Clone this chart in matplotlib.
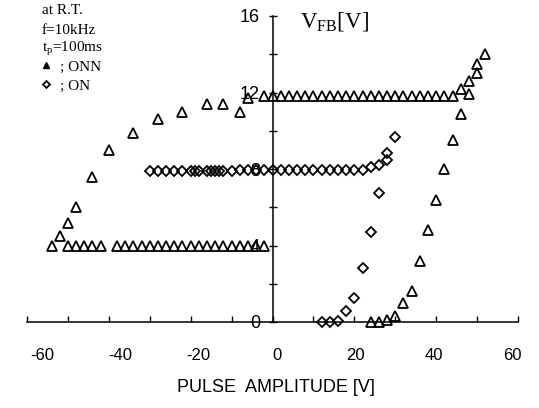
import matplotlib
matplotlib.use("Agg")
import matplotlib.pyplot as plt
from matplotlib.lines import Line2D

# ---------------- data ----------------
# ONN (open triangles)
onn_x = [-54, -52, -50, -48, -44, -40, -34, -28, -22, -16, -12, -8, -6,
         -50, -48, -46, -44, -42, -38, -36, -34, -32, -30, -28, -26, -24, -22,
         -20, -18, -16, -14, -12, -10, -8, -6, -4, -2,
         -2, 0, 2, 4, 6, 8, 10, 12, 14, 16, 18, 20, 22, 24, 26, 28, 30, 32,
         34, 36, 38, 40, 42, 44,
         24, 26, 28, 30, 32, 34, 36, 38, 40, 42, 44, 46, 46, 48, 48, 50, 50, 52]
onn_y = [4.0, 4.5, 5.2, 6.0, 7.6, 9.0, 9.9, 10.6, 11.0, 11.4, 11.4, 11.0, 11.7,
         4.0, 4.0, 4.0, 4.0, 4.0, 4.0, 4.0, 4.0, 4.0, 4.0, 4.0, 4.0, 4.0, 4.0,
         4.0, 4.0, 4.0, 4.0, 4.0, 4.0, 4.0, 4.0, 4.0, 4.0,
         11.8, 11.8, 11.8, 11.8, 11.8, 11.8, 11.8, 11.8, 11.8, 11.8, 11.8, 11.8,
         11.8, 11.8, 11.8, 11.8, 11.8, 11.8, 11.8, 11.8, 11.8, 11.8, 11.8, 11.8,
         0.0, 0.0, 0.1, 0.3, 1.0, 1.6, 3.2, 4.8, 6.4, 8.0, 9.5, 10.9, 12.2, 11.9,
         12.6, 13.0, 13.5, 14.0]

# ON (open diamonds)
on_x = [-30, -28, -26, -24, -22, -20, -18, -16, -14, -12, -10, -8, -6, -4, -2,
        0, 2, 4, 6, 8, 10, 12, 14, 16, 18, 20, 22,
        -19, -15, -13,
        24, 26, 28, 28, 30,
        12, 14, 16, 18, 20, 22, 24, 26]
on_y = [7.92, 7.92, 7.92, 7.92, 7.92, 7.92, 7.92, 7.92, 7.92, 7.92, 7.92, 7.95,
        7.95, 7.95, 7.95, 7.97, 7.97, 7.97, 7.97, 7.97, 7.97, 7.97, 7.97, 7.97,
        7.97, 7.97, 7.97,
        7.88, 7.88, 7.88,
        8.1, 8.2, 8.45, 8.85, 9.65,
        0.0, 0.0, 0.05, 0.6, 1.25, 2.8, 4.7, 6.75]

x_ticks = [-60, -50, -40, -30, -20, -10, 0, 10, 20, 30, 40, 50, 60]
x_labels = [-60, -40, -20, 0, 20, 40, 60]
y_ticks = [0, 2, 4, 6, 8, 10, 12, 14, 16]
y_labels = [0, 4, 8, 12, 16]

info_lines = ["at R.T.", "f=10kHz", r"t$_\mathregular{p}$=100ms"]
series_names = ["; ONN", "; ON"]

# ---------------- figure ----------------
W, H = 539, 408
fig = plt.figure(figsize=(W / 100, H / 100), dpi=100)
ax = fig.add_axes([27 / W, 1 - 322 / H, (518 - 27) / W, (322 - 16) / H])
ax.set_xlim(-60, 60)
ax.set_ylim(0, 16)

for s in ["top", "right"]:
    ax.spines[s].set_visible(False)
ax.spines["left"].set_position(("data", 0))
ax.spines["left"].set_bounds(0, 16)
ax.spines["bottom"].set_bounds(-60, 60)
for s in ["left", "bottom"]:
    ax.spines[s].set_linewidth(1.1)
    ax.spines[s].set_color("black")

ax.set_xticks(x_ticks)
ax.set_xticklabels([])
ax.tick_params(axis="x", direction="in", length=4, width=1.0, color="black")

ax.set_yticks(y_ticks)
ax.set_yticklabels([str(v) if v in y_labels else "" for v in y_ticks],
                   fontfamily="Liberation Sans", fontsize=13)
ax.tick_params(axis="y", direction="inout", length=6, width=1.0, pad=6,
               color="black")

# secondary axis carrying the (slightly shifted) pasted-up x labels
sec = ax.secondary_xaxis("bottom",
                         functions=(lambda x: (x - 1.1) / 0.958,
                                    lambda v: 1.1 + 0.958 * v))
sec.set_xticks(x_labels)
sec.set_xticklabels([str(v) for v in x_labels], fontfamily="Liberation Sans",
                    fontsize=12)
sec.tick_params(length=0, pad=19)
sec.spines["bottom"].set_visible(False)

ax.plot(onn_x, onn_y, linestyle="none", marker="^", ms=7, mfc="none",
        mec="black", mew=1.3, clip_on=False)
ax.plot(on_x, on_y, linestyle="none", marker="D", ms=5, mfc="none",
        mec="black", mew=1.3, clip_on=False)

fig.text(276 / W, 1 - 387 / H, "PULSE  AMPLITUDE [V]", ha="center",
         va="center", fontfamily="Liberation Sans", fontsize=13)

# V_FB label
fig.text(300 / W, 1 - 22 / H, r"V$_\mathregular{FB}$[V]", ha="left",
         va="center", fontfamily="Liberation Serif", fontsize=16.5)

# info block
for i, t in enumerate(info_lines):
    fig.text(42 / W, 1 - (11 + 19 * i) / H, t, ha="left", va="center",
             fontfamily="Liberation Serif", fontsize=11)

handles = [Line2D([], [], linestyle="none", marker="^", ms=4, color="black"),
           Line2D([], [], linestyle="none", marker="D", ms=3.5, mfc="white",
                  mec="black", mew=1.3)]
leg = fig.legend(handles, series_names, loc="upper left",
                 bbox_to_anchor=(40 / W, 1 - 60 / H), frameon=False,
                 handlelength=0.8, handletextpad=0.5, labelspacing=0.35,
                 borderpad=0, borderaxespad=0,
                 prop={"family": "Liberation Serif", "size": 11})

fig.savefig("out.png", dpi=100)
